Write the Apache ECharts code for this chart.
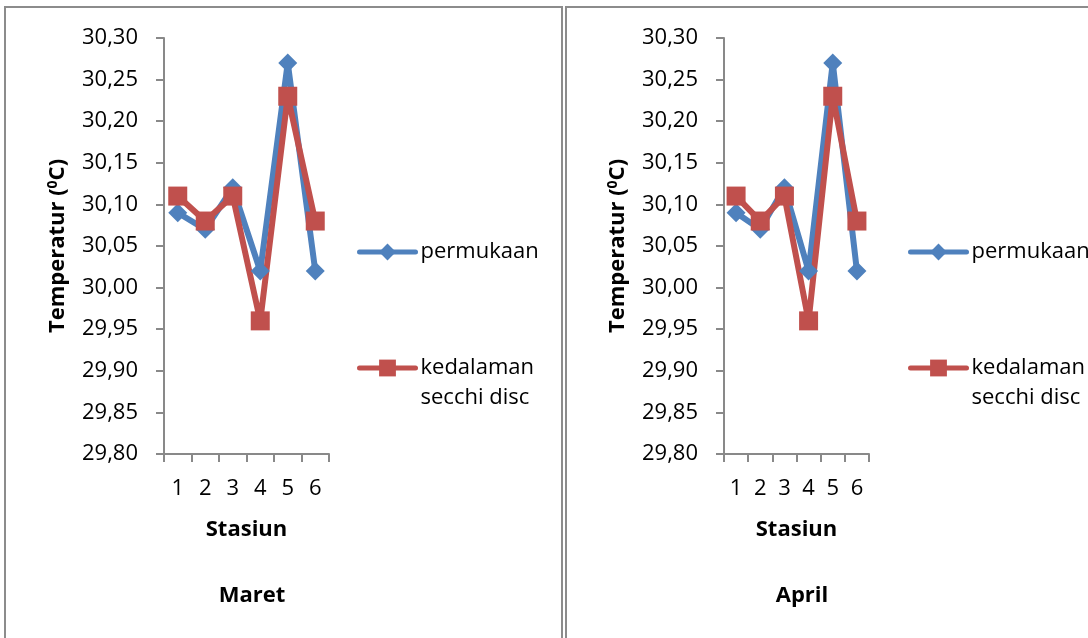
<!DOCTYPE html>
<html>
<head>
<meta charset="utf-8">
<script src="https://cdn.jsdelivr.net/npm/echarts@6/dist/echarts.min.js"></script>
<style>
html,body{margin:0;padding:0;background:#fff;}
#c{width:1088px;height:638px;}
</style>
</head>
<body>
<div id="c"></div>
<script>
const stations = ['1','2','3','4','5','6'];
const permukaanMaret = [30.09, 30.07, 30.12, 30.02, 30.27, 30.02];
const secchiMaret = [30.11, 30.08, 30.11, 29.96, 30.23, 30.08];
const permukaanApril = [30.09, 30.07, 30.12, 30.02, 30.27, 30.02];
const secchiApril = [30.11, 30.08, 30.11, 29.96, 30.23, 30.08];
const panelTitles = ['Maret', 'April'];
const seriesNames = ['permukaan', 'kedalaman secchi disc'];
const yMin = 29.8, yMax = 30.3, yStep = 0.05;

const FONT = '"Open Sans", "Noto Sans", sans-serif';
const BLUE = '#4F81BD', RED = '#C0504D', AXIS = '#898989';

const chart = echarts.init(document.getElementById('c'), null, {renderer: 'canvas'});

const grids = [
  {left: 164, top: 38, width: 165, height: 416},
  {left: 724, top: 38, width: 145, height: 416}
];

function xAxis(i) {
  return {
    type: 'category', gridIndex: i, data: stations, boundaryGap: true,
    name: 'Stasiun', nameLocation: 'middle', nameGap: 65,
    nameTextStyle: {fontFamily: FONT, fontSize: 22, fontWeight: 'bold', color: '#000'},
    axisLine: {lineStyle: {color: AXIS, width: 2}},
    axisTick: {show: true, inside: false, length: 8, alignWithLabel: false, lineStyle: {color: AXIS, width: 2}},
    axisLabel: {fontFamily: FONT, fontSize: 22, color: '#000', margin: 24, interval: 0},
    splitLine: {show: false}
  };
}
function yAxis(i) {
  return {
    type: 'value', gridIndex: i, min: yMin, max: yMax, interval: yStep,
    name: 'Temperatur ({sup|0}C)', nameLocation: 'middle', nameGap: 94,
    nameTextStyle: {fontFamily: FONT, fontSize: 22, fontWeight: 'bold', color: '#000',
      rich: {sup: {fontFamily: FONT, fontSize: 14, fontWeight: 'bold', color: '#000', padding: [0, 0, 10, 0]}}},
    axisLine: {show: true, lineStyle: {color: AXIS, width: 2}},
    axisTick: {show: true, inside: false, length: 8, lineStyle: {color: AXIS, width: 2}},
    axisLabel: {fontFamily: FONT, fontSize: 22, color: '#000', margin: 26,
      formatter: v => v.toFixed(2).replace('.', ',')},
    splitLine: {show: false}
  };
}
function lineSeries(name, data, i, color, symbol, size) {
  return {
    type: 'line', name: name, xAxisIndex: i, yAxisIndex: i, data: data,
    symbol: symbol, symbolSize: size, showSymbol: true,
    lineStyle: {color: color, width: 6, cap: 'round', join: 'round'}, itemStyle: {color: color},
    emphasis: {disabled: true}, animation: false
  };
}

function legend(left, top, name, fmt) {
  const o = {
    orient: 'vertical', left: left, top: top, padding: 0, itemWidth: 56, itemHeight: 21,
    data: [name], selectedMode: false,
    lineStyle: {width: 5, cap: 'round'},
    textStyle: {fontFamily: FONT, fontSize: 22, color: '#000', lineHeight: 30}
  };
  if (fmt) o.formatter = fmt;
  return o;
}

const option = {
  backgroundColor: '#fff',
  animation: false,
  graphic: [
    {type: 'rect', shape: {x: 5, y: 7, width: 557, height: 640}, style: {fill: 'none', stroke: '#8c8c8c', lineWidth: 2}, silent: true},
    {type: 'rect', shape: {x: 566, y: 7, width: 530, height: 640}, style: {fill: 'none', stroke: '#8c8c8c', lineWidth: 2}, silent: true}
  ],
  title: [
    {text: panelTitles[0], left: 247, top: 580, textAlign: 'center', textStyle: {fontFamily: FONT, fontSize: 22, fontWeight: 'bold', color: '#000'}},
    {text: panelTitles[1], left: 797, top: 580, textAlign: 'center', textStyle: {fontFamily: FONT, fontSize: 22, fontWeight: 'bold', color: '#000'}}
  ],
  legend: [
    legend(357, 237, seriesNames[0]),
    legend(357, 323, seriesNames[1], () => ' \nkedalaman\nsecchi disc'),
    legend(908, 237, seriesNames[0]),
    legend(908, 323, seriesNames[1], () => ' \nkedalaman\nsecchi disc')
  ],
  grid: grids,
  xAxis: [xAxis(0), xAxis(1)],
  yAxis: [yAxis(0), yAxis(1)],
  series: [
    lineSeries(seriesNames[0], permukaanMaret, 0, BLUE, 'diamond', 19),
    lineSeries(seriesNames[1], secchiMaret, 0, RED, 'rect', 19),
    lineSeries(seriesNames[0], permukaanApril, 1, BLUE, 'diamond', 19),
    lineSeries(seriesNames[1], secchiApril, 1, RED, 'rect', 19)
  ]
};
chart.setOption(option);
</script>
</body>
</html>
